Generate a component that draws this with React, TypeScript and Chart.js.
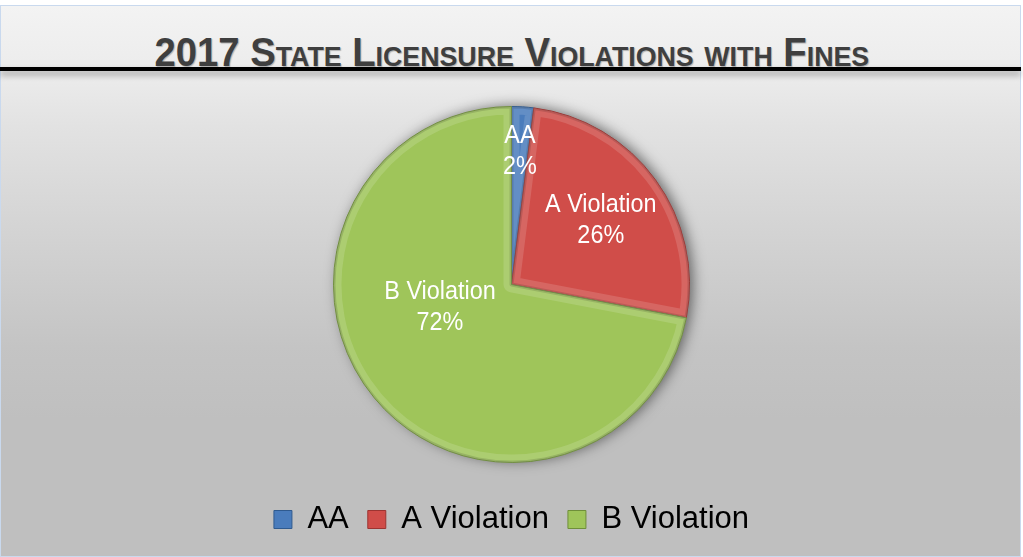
import React, { useEffect, useRef } from "react";
import { Chart, registerables } from "chart.js";

Chart.register(...registerables);

const TITLE = "2017 State Licensure Violations with Fines";
const categories = ["AA", "A Violation", "B Violation"];
const percentValues = [2, 26, 72];
const sliceColors = ["#4a7cbc", "#d04d49", "#9fc55a"];
const sliceBorders = ["#2f5a8f", "#9c3431", "#6f8f3a"];
// label placement: fraction of radius and angle offset (degrees) from slice middle
const labelRadiusFrac = [0.75, 0.62, 0.42];
const labelAngleOffset = [0, 0, 22.6];

const SANS = '"Liberation Sans", Arial, sans-serif';
const LABEL_FONT_SIZE = 26;
const LABEL_NARROW = 0.9;
const TITLE_WIDTH = 715;

const shadowPlugin = {
  id: "pieShadow",
  beforeDatasetsDraw(chart: any) {
    const meta = chart.getDatasetMeta(0);
    const arc = meta.data[0];
    if (!arc) return;
    const { x, y, outerRadius } = arc.getProps(["x", "y", "outerRadius"], true);
    const ctx = chart.ctx;
    ctx.save();
    ctx.shadowColor = "rgba(0,0,0,0.55)";
    ctx.shadowBlur = 14;
    ctx.shadowOffsetX = 4;
    ctx.shadowOffsetY = -1;
    ctx.beginPath();
    ctx.arc(x, y, outerRadius - 1, 0, Math.PI * 2);
    ctx.fillStyle = "#888";
    ctx.fill();
    ctx.restore();
  },
};

const bevelPlugin = {
  id: "pieBevel",
  afterDatasetsDraw(chart: any) {
    const meta = chart.getDatasetMeta(0);
    const ctx = chart.ctx;
    meta.data.forEach((arc: any) => {
      const { x, y, startAngle, endAngle, outerRadius } = arc.getProps(
        ["x", "y", "startAngle", "endAngle", "outerRadius"],
        true
      );
      ctx.save();
      ctx.beginPath();
      ctx.moveTo(x, y);
      ctx.arc(x, y, outerRadius, startAngle, endAngle);
      ctx.closePath();
      ctx.clip();
      ctx.lineJoin = "round";
      ctx.strokeStyle = "rgba(255,255,255,0.14)";
      ctx.lineWidth = 16;
      ctx.stroke();
      ctx.strokeStyle = "rgba(0,0,0,0.12)";
      ctx.lineWidth = 4;
      ctx.stroke();
      ctx.restore();
    });
  },
};

const labelPlugin = {
  id: "sliceLabels",
  afterDatasetsDraw(chart: any) {
    const meta = chart.getDatasetMeta(0);
    const data = chart.data.datasets[0].data as number[];
    const total = data.reduce((a: number, b: number) => a + b, 0);
    const ctx = chart.ctx;
    ctx.save();
    ctx.fillStyle = "#ffffff";
    ctx.textAlign = "center";
    ctx.textBaseline = "middle";
    ctx.font = `${LABEL_FONT_SIZE}px ${SANS}`;
    meta.data.forEach((arc: any, i: number) => {
      const { x, y, startAngle, endAngle, outerRadius } = arc.getProps(
        ["x", "y", "startAngle", "endAngle", "outerRadius"],
        true
      );
      const mid = (startAngle + endAngle) / 2 + (labelAngleOffset[i] * Math.PI) / 180;
      const r = outerRadius * labelRadiusFrac[i];
      const px = x + Math.cos(mid) * r;
      const py = y + Math.sin(mid) * r;
      const pct = Math.round((data[i] / total) * 100) + "%";
      ctx.save();
      ctx.translate(px, py);
      ctx.scale(LABEL_NARROW, 1);
      ctx.fillText(chart.data.labels[i], 0, -15);
      ctx.fillText(pct, 0, 16);
      ctx.restore();
    });
    ctx.restore();
  },
};

export default function App() {
  const canvasRef = useRef<HTMLCanvasElement | null>(null);
  const titleRef = useRef<HTMLSpanElement | null>(null);

  useEffect(() => {
    document.body.style.margin = "0";
    const t = titleRef.current;
    if (t) {
      const w = t.offsetWidth;
      if (w > 0) t.style.transform = `scaleX(${TITLE_WIDTH / w})`;
    }
    const canvas = canvasRef.current;
    if (!canvas) return;
    const chart = new Chart(canvas, {
      type: "pie",
      data: {
        labels: categories,
        datasets: [
          {
            data: percentValues,
            backgroundColor: sliceColors,
            borderColor: sliceBorders,
            borderWidth: 1,
            radius: 178,
          } as any,
        ],
      },
      options: {
        responsive: false,
        animation: false,
        layout: { padding: { top: 84, bottom: 0, left: 0, right: 0 } },
        plugins: {
          title: { display: false },
          tooltip: { enabled: false },
          legend: {
            display: true,
            position: "bottom",
            labels: {
              boxWidth: 18,
              boxHeight: 18,
              padding: 19,
              color: "#000000",
              font: { size: 31, family: SANS },
            },
          },
        },
      },
      plugins: [shadowPlugin, bevelPlugin, labelPlugin],
    });
    return () => chart.destroy();
  }, []);

  return (
    <div
      style={{
        position: "relative",
        width: 1023,
        height: 557,
        overflow: "hidden",
        background: "#ffffff",
      }}
    >
      <div
        style={{
          position: "absolute",
          left: 0,
          top: 5,
          width: 1019,
          height: 550,
          border: "1px solid #c9d9ee",
          background:
            "linear-gradient(180deg, #f3f3f3 0%, #ececec 12%, #e2e2e2 22%, #d4d4d4 40%, #c4c4c4 62%, #bfbfbf 75%, #bfbfbf 100%)",
        }}
      />
      <div
        style={{
          position: "absolute",
          left: 0,
          top: 67,
          width: 1021,
          height: 4,
          background: "#000000",
          boxShadow: "0 4px 6px rgba(0,0,0,0.35)",
        }}
      />
      <div
        style={{
          position: "absolute",
          left: 0,
          top: 32,
          width: 1023,
          height: 40,
          lineHeight: "40px",
          textAlign: "center",
          whiteSpace: "nowrap",
        }}
      >
        <span
          ref={titleRef}
          style={{
            display: "inline-block",
            transformOrigin: "50% 50%",
            fontFamily: SANS,
            fontWeight: "bold",
            fontSize: 40,
            fontVariant: "small-caps",
            color: "#3f3f3f",
            textShadow: "1px 1px 1px rgba(0,0,0,0.25)",
          }}
        >
          {TITLE}
        </span>
      </div>
      <canvas
        ref={canvasRef}
        width={1023}
        height={545}
        style={{ position: "absolute", left: 0, top: 0, width: 1023, height: 545 }}
      />
    </div>
  );
}
